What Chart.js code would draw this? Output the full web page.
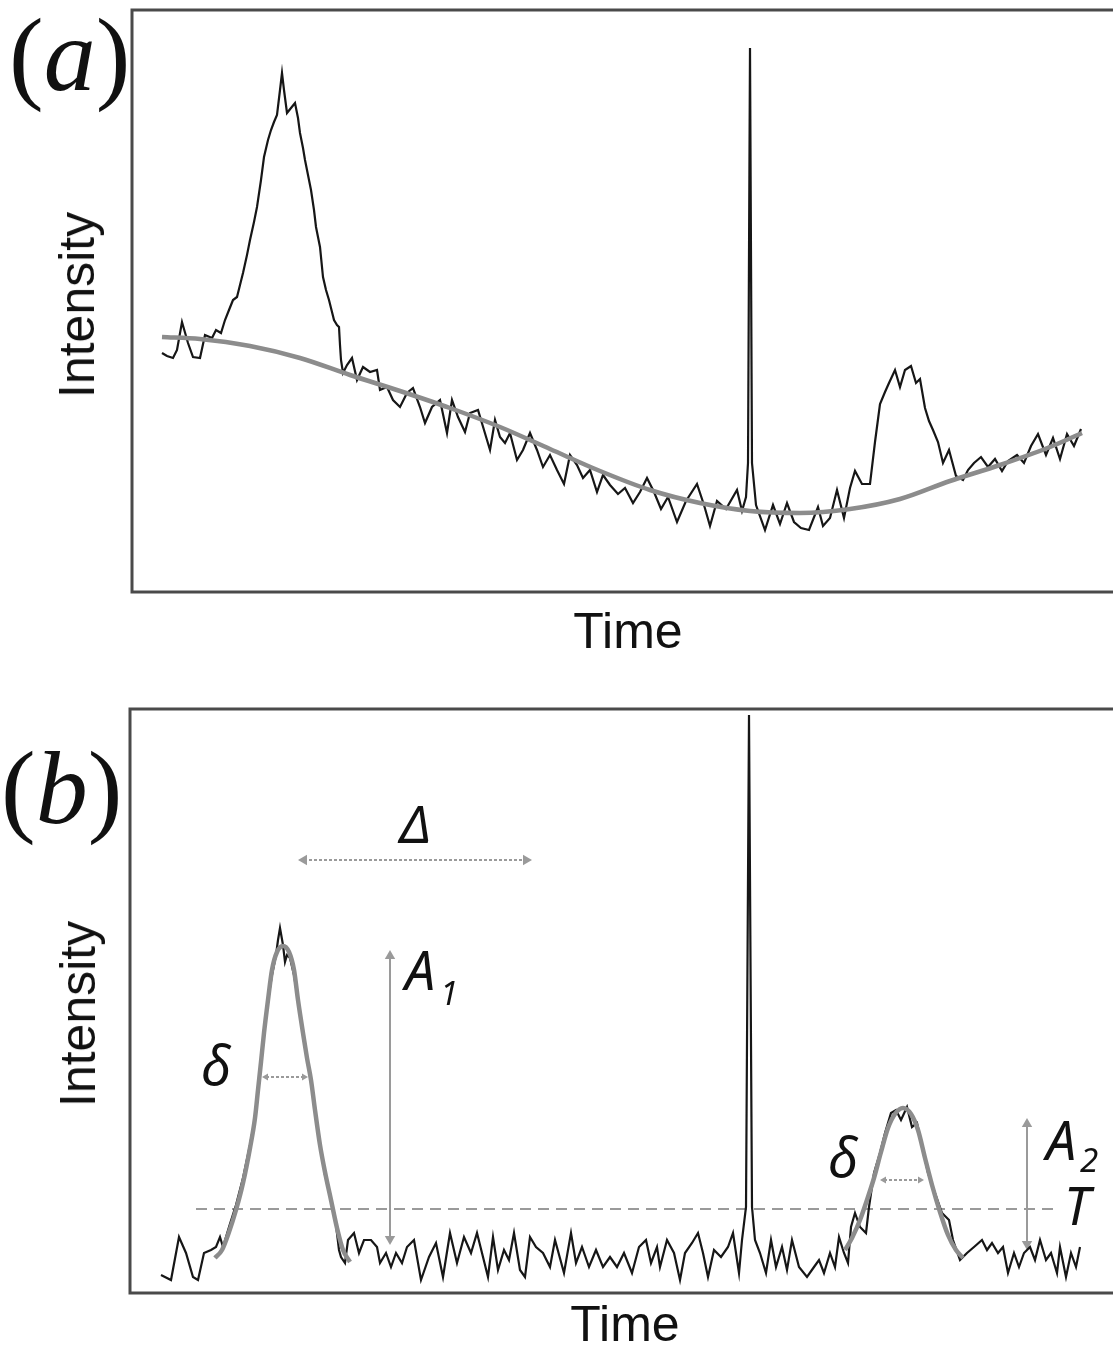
<!DOCTYPE html>
<html>
<head>
<meta charset="utf-8">
<title>Intensity vs Time</title>
<script src="https://cdn.jsdelivr.net/npm/chart.js@4.4.1/dist/chart.umd.min.js"></script>
<style>
  html, body { margin: 0; padding: 0; background: #fff; }
  body { position: relative; width: 1113px; height: 1349px; overflow: hidden; }
  canvas { position: absolute; left: 0; }
  #chartA { top: 0; }
  #chartB { top: 700px; }
  .lbl { position: absolute; line-height: 1; white-space: nowrap; color: #111; }
  .panel { font-family: "Liberation Serif", serif; font-size: 104px; }
  .panel i { font-style: italic; }
  .axis { font-family: "Liberation Sans", Arial, sans-serif; font-size: 50px; transform: translate(-50%, -50%); }
  .axis.vert { transform: translate(-50%, -50%) rotate(-90deg); }
  .sym { font-family: "Noto Sans", sans-serif; font-style: italic; font-size: 54px; }
  .sub { font-family: "Noto Sans", sans-serif; font-style: italic; font-size: 33px; }
</style>
</head>
<body>
<canvas id="chartA" width="1140" height="600"></canvas>
<canvas id="chartB" width="1140" height="600"></canvas>

<div class="lbl panel" style="left:9px; top:3px;">(<i>a</i>)</div>
<div class="lbl panel" style="left:1px; top:736px;">(<i>b</i>)</div>
<div class="lbl axis vert" style="left:77px; top:305px;">Intensity</div>
<div class="lbl axis vert" style="left:78px; top:1014px;">Intensity</div>
<div class="lbl axis" style="left:628px; top:631px;">Time</div>
<div class="lbl axis" style="left:625px; top:1324px;">Time</div>

<div class="lbl sym" style="left:400px; top:797px; font-size:52px;">Δ</div>
<div class="lbl sym" style="left:405px; top:942px;">A</div>
<div class="lbl sub" style="left:440px; top:976px;">1</div>
<div class="lbl sym" style="left:201px; top:1037px;">δ</div>
<div class="lbl sym" style="left:828px; top:1129px;">δ</div>
<div class="lbl sym" style="left:1046px; top:1112px;">A</div>
<div class="lbl sub" style="left:1080px; top:1143px;">2</div>
<div class="lbl sym" style="left:1064px; top:1179px; font-size:52px;">T</div>

<script>
// ---- panel (a): raw trace with drifting baseline ----
const timeA = [30,35,41,45,50,56,61,68,73,80,84,89,93,97,101,105,108,111,115,118,
  122,125,129,132,136,139,142,145,148,150,152,155,159,163,166,168,171,173,176,179,
  182,184,186,188,191,194,197,200,202,205,207,208,209,211,215,220,225,231,238,245,
  248,255,261,268,275,281,288,293,300,308,315,320,326,333,338,346,355,358,363,368,
  373,378,385,391,398,405,411,418,425,432,438,445,451,458,465,471,478,486,493,501,
  508,515,522,529,536,545,554,565,572,578,585,594,605,610,614,616,618,620,624,633,
  641,648,655,662,669,677,686,691,698,705,712,718,723,730,738,743,748,753,757,763,
  768,773,779,784,788,793,797,801,806,811,817,824,831,836,842,849,856,863,870,876,
  885,892,899,906,914,921,928,935,942,949];
const signalA = [239,236,234,242,270,249,235,234,257,254,262,259,272,282,292,295,307,319,337,352,
  370,385,412,435,452,462,470,477,502,519,502,479,484,489,474,459,444,432,417,402,
  382,365,355,345,315,302,292,280,272,267,265,247,232,219,227,234,212,225,220,222,
  202,205,192,185,199,204,185,169,185,192,159,192,175,160,179,182,152,142,172,155,
  149,159,132,142,159,142,125,137,122,108,137,127,114,122,100,117,107,98,104,89,
  100,114,100,83,95,70,91,108,87,66,91,83,102,81,95,129,544,129,87,62,
  87,68,89,70,64,62,85,66,74,102,74,104,121,108,108,150,188,200,209,222,
  205,222,226,209,213,184,171,162,150,129,142,116,112,122,129,135,125,133,121,131,
  137,129,146,158,137,154,133,158,146,163];
const baseTimeA = [30,68,118,168,218,268,318,368,418,468,518,568,618,668,718,768,818,868,918,950];
const baselineA = [255,253,246,234,217,201,184,165,143,121,102,89,81,79,83,93,111,127,145,159];

// ---- panel (b): baseline-corrected trace with fitted peaks ----
const timeB = [29,39,47,54,61,66,72,79,84,88,91,97,104,111,118,123,126,129,132,136,
  140,144,146,148,151,153,155,158,162,166,171,175,179,183,188,193,199,204,207,209,
  213,216,222,227,232,239,245,248,254,259,264,270,275,282,289,297,304,311,318,325,
  332,339,345,350,356,361,366,372,377,382,388,393,398,404,411,418,423,432,439,444,
  450,457,464,471,478,485,492,500,507,514,519,525,528,535,542,548,553,560,566,571,
  576,582,589,596,601,607,610,614,617,620,623,628,634,639,644,650,655,660,667,675,
  682,687,692,698,703,707,712,716,719,723,728,734,737,742,748,753,759,764,769,775,
  780,785,791,796,803,810,817,821,828,835,842,850,855,860,866,871,876,882,887,892,
  898,903,908,914,919,925,928,934,939,944,948];
const signalB = [18,13,56,40,16,13,40,43,46,56,46,66,88,115,148,175,203,233,263,293,
  318,338,353,365,348,331,338,335,318,293,260,235,211,183,148,118,93,68,43,36,
  30,53,60,40,53,53,46,30,40,26,40,30,46,53,13,36,50,16,60,30,
  56,40,60,40,16,56,23,43,33,60,23,16,56,46,40,26,53,20,60,30,
  46,26,43,26,36,26,40,20,46,53,30,46,26,53,40,13,40,50,60,40,
  16,43,36,46,60,20,53,86,578,86,53,40,20,53,26,46,23,53,26,16,
  26,33,20,40,26,56,40,30,66,80,66,60,86,120,140,160,180,183,173,186,
  166,170,143,120,100,80,73,53,33,40,46,53,43,50,40,46,20,40,26,40,
  46,33,53,33,40,20,46,16,40,26,46];
const fit1Time = [83,90,97,104,111,118,123,126,129,132,136,140,145,151,157,162,166,171,175,179,183,188,193,199,205,211,218];
const fit1 = [35,43,61,83,110,145,175,203,231,260,293,323,341,347,341,323,293,260,235,213,183,148,121,93,65,43,31];
const fit2Time = [713,720,728,735,742,749,756,763,771,779,786,793,800,808,816,824,831];
const fit2 = [43,55,73,93,115,141,165,179,185,179,163,135,108,81,58,43,35];

// annotation marks (same data units as panel b)
const thresholdTime = [64, 926];
const thresholdLevel = 84;
const gapTime = [172, 394];        // Δ between the two peaks
const gapLevel = 433;
const width1Time = [134, 172];     // δ of first peak
const width1Level = 216;
const width2Time = [752, 788];     // δ of second peak
const width2Level = 113;
const amp1Time = 258;              // A1
const amp1Range = [337, 54];
const amp2Time = 895;              // A2
const amp2Range = [169, 49];

const traceColor = '#161616';
const fitColor = '#8c8c8c';
const noteColor = '#9a9a9a';

//pairs two arrays into {x, y} points
function pts(xs, ys) {
  return xs.map(function(x, i) {
    return { x: x, y: Array.isArray(ys) ? ys[i] : ys };
  });
}

function trace(xs, ys) {
  return { data: pts(xs, ys), borderColor: traceColor, borderWidth: 2.2, pointRadius: 0, tension: 0, order: 1 };
}

function fit(xs, ys) {
  return { data: pts(xs, ys), borderColor: fitColor, borderWidth: 4.5, pointRadius: 0,
    tension: 0.4, cubicInterpolationMode: 'monotone', order: 0 };
}

//double headed arrow: a two point line with triangle markers
function arrow(xs, ys, rotation, radius, dash) {
  return {
    data: pts(xs, ys),
    borderColor: noteColor, borderWidth: 2, borderDash: dash,
    pointStyle: 'triangle', pointRadius: radius, pointRotation: rotation,
    pointBackgroundColor: noteColor, pointBorderWidth: 0, order: 2
  };
}

//box round the plot area
const frame = {
  id: 'frame',
  afterDatasetsDraw(chart) {
    const ctx = chart.ctx;
    const a = chart.chartArea;
    ctx.save();
    ctx.strokeStyle = '#4a4a4a';
    ctx.lineWidth = 3;
    ctx.strokeRect(a.left, a.top, a.right - a.left, a.bottom - a.top);
    ctx.restore();
  }
};

function baseOptions(padding, xMin, yMax) {
  return {
    responsive: false,
    animation: false,
    layout: { autoPadding: false, padding: padding },
    plugins: { legend: { display: false }, tooltip: { enabled: false } },
    scales: {
      x: { type: 'linear', display: false, min: xMin, max: 1003 },
      y: { type: 'linear', display: false, min: 0, max: yMax }
    }
  };
}

new Chart(document.getElementById('chartA'), {
  type: 'line',
  data: {
    datasets: [
      trace(timeA, signalA),
      fit(baseTimeA, baselineA)
    ]
  },
  options: baseOptions({ left: 132, top: 10, right: 5, bottom: 8 }, 0, 582),
  plugins: [frame]
});

new Chart(document.getElementById('chartB'), {
  type: 'line',
  data: {
    datasets: [
      trace(timeB, signalB),
      fit(fit1Time, fit1),
      fit(fit2Time, fit2),
      { data: pts(thresholdTime, thresholdLevel), borderColor: noteColor, borderWidth: 2,
        borderDash: [11, 7], pointRadius: 0, order: 3 },
      arrow(gapTime, gapLevel, [-90, 90], 6, [3, 2]),
      arrow(width1Time, width1Level, [-90, 90], 4, [3, 2]),
      arrow(width2Time, width2Level, [-90, 90], 4, [3, 2]),
      arrow([amp1Time, amp1Time], amp1Range, [0, 180], 6, []),
      arrow([amp2Time, amp2Time], amp2Range, [0, 180], 6, [])
    ]
  },
  options: baseOptions({ left: 130, top: 9, right: 5, bottom: 7 }, -2, 584),
  plugins: [frame]
});
</script>
</body>
</html>
